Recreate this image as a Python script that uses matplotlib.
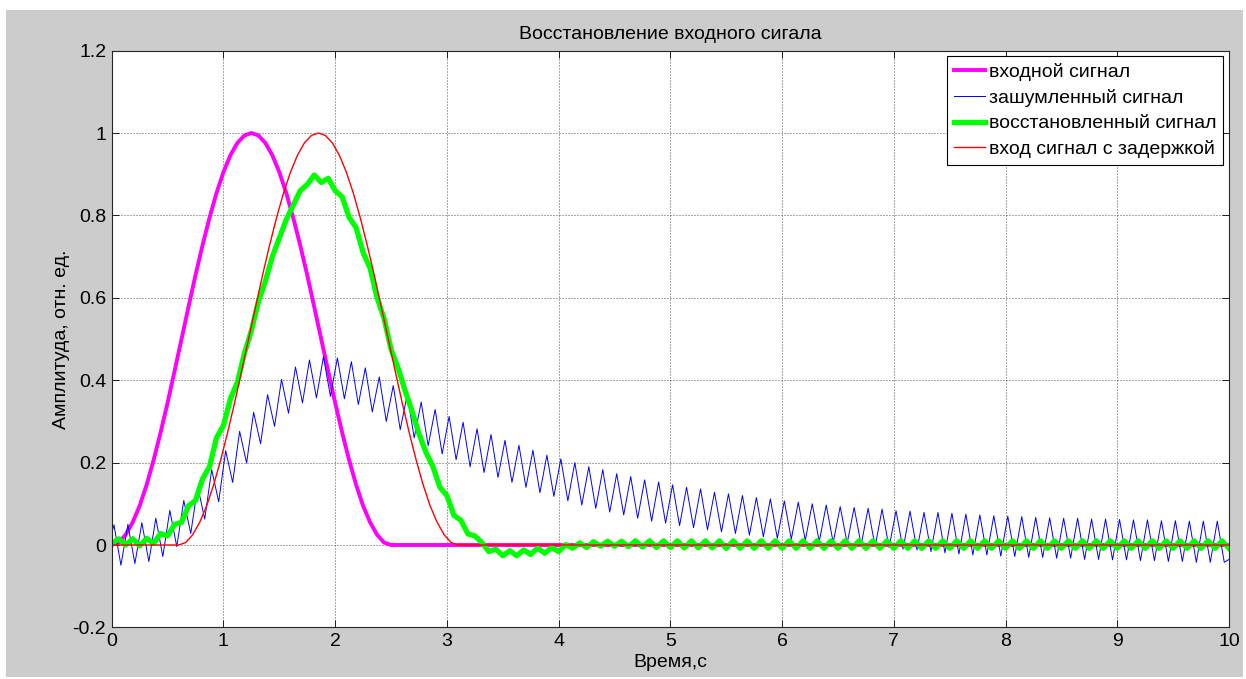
import numpy as np
import matplotlib
matplotlib.use("Agg")
import matplotlib.pyplot as plt
from matplotlib.patches import Rectangle

plt.rcParams["font.family"] = ["Liberation Sans", "DejaVu Sans"]
plt.rcParams["font.size"] = 14

# входной импульс, отсчёты через 0.0625 с
pulse_step = 0.0625
pulse_vals = [0.000, 0.006, 0.025, 0.055, 0.095, 0.146, 0.206, 0.273, 0.345, 0.422,
              0.500, 0.578, 0.655, 0.727, 0.794, 0.854, 0.905, 0.946, 0.976, 0.994,
              1.000, 0.994, 0.976, 0.946, 0.905, 0.854, 0.794, 0.727, 0.655, 0.578,
              0.500, 0.422, 0.345, 0.273, 0.206, 0.146, 0.095, 0.055, 0.025, 0.006,
              0.000]
delay = 0.6          # задержка, с
t_end = 10.0

# зашумлённый сигнал: максимумы и минимумы помехи 8 Гц
noise_period = 0.125
noise_phase = 0.02
noisy_peaks = [0.049, 0.050, 0.054, 0.065, 0.084, 0.108, 0.142, 0.183, 0.229, 0.276,
               0.322, 0.365, 0.402, 0.432, 0.449, 0.457, 0.454, 0.445, 0.430, 0.408,
               0.387, 0.365, 0.347, 0.329, 0.312, 0.298, 0.282, 0.268, 0.254, 0.242,
               0.230, 0.218, 0.209, 0.200, 0.190, 0.183, 0.173, 0.166, 0.158, 0.153,
               0.146, 0.140, 0.136, 0.128, 0.124, 0.120, 0.115, 0.112, 0.107, 0.104,
               0.100, 0.097, 0.093, 0.091, 0.089, 0.087, 0.083, 0.082, 0.079, 0.079,
               0.077, 0.075, 0.073, 0.071, 0.070, 0.069, 0.067, 0.066, 0.065, 0.065,
               0.063, 0.063, 0.062, 0.061, 0.061, 0.059, 0.059, 0.058, 0.058, 0.058]
noisy_troughs = [-0.049, -0.045, -0.040, -0.028, -0.004, 0.028, 0.063, 0.105, 0.152, 0.199,
                 0.246, 0.288, 0.320, 0.345, 0.357, 0.361, 0.355, 0.341, 0.323, 0.300,
                 0.280, 0.260, 0.241, 0.221, 0.207, 0.190, 0.176, 0.164, 0.152, 0.140,
                 0.127, 0.118, 0.107, 0.097, 0.089, 0.080, 0.073, 0.065, 0.058, 0.053,
                 0.047, 0.042, 0.037, 0.032, 0.028, 0.024, 0.020, 0.016, 0.014, 0.011,
                 0.008, 0.006, 0.004, 0.000, -0.004, -0.006, -0.010, -0.012, -0.016, -0.019,
                 -0.022, -0.024, -0.024, -0.027, -0.028, -0.030, -0.030, -0.032, -0.032, -0.035,
                 -0.035, -0.036, -0.036, -0.038, -0.038, -0.040, -0.040, -0.042, -0.042, -0.042]
noisy_start = 0.028
noisy_end = -0.035

# восстановленный сигнал, отсчёты через 0.0625 с
restored_step = 0.0625
restored_vals = [0.003, 0.015, 0.000, 0.015, -0.002, 0.016, 0.004, 0.028, 0.022, 0.050,
                 0.055, 0.095, 0.108, 0.160, 0.190, 0.260, 0.290, 0.355, 0.395, 0.465,
                 0.520, 0.590, 0.640, 0.700, 0.745, 0.790, 0.825, 0.860, 0.875, 0.898,
                 0.880, 0.890, 0.860, 0.845, 0.795, 0.770, 0.710, 0.672, 0.600, 0.550,
                 0.475, 0.430, 0.375, 0.325, 0.270, 0.225, 0.190, 0.140, 0.120, 0.072,
                 0.060, 0.027, 0.022, 0.006, -0.016, -0.010, -0.026, -0.014, -0.026, -0.012,
                 -0.023, -0.007, -0.020, -0.006, -0.016, 0.001, -0.008, 0.005, -0.006, 0.008,
                 -0.003, 0.009, -0.003, 0.009, -0.004, 0.010, -0.005, 0.010, -0.006, 0.010,
                 -0.006, 0.010, -0.007, 0.010, -0.007, 0.010, -0.007, 0.010, -0.008, 0.010,
                 -0.008, 0.010, -0.008, 0.010, -0.008, 0.010, -0.008, 0.010, -0.008, 0.010,
                 -0.008, 0.010, -0.008, 0.010, -0.008, 0.010, -0.008, 0.010, -0.008, 0.010,
                 -0.008, 0.010, -0.008, 0.010, -0.008, 0.010, -0.008, 0.010, -0.008, 0.010,
                 -0.008, 0.010, -0.008, 0.010, -0.008, 0.010, -0.008, 0.010, -0.008, 0.010,
                 -0.008, 0.010, -0.008, 0.010, -0.008, 0.010, -0.008, 0.010, -0.008, 0.010,
                 -0.008, 0.010, -0.008, 0.010, -0.008, 0.010, -0.008, 0.010, -0.008, 0.010,
                 -0.008, 0.010, -0.008, 0.010, -0.008, 0.010, -0.008, 0.010, -0.008, 0.010,
                 -0.008]

x_ticks = list(range(0, 11))
y_ticks = [-0.2, 0.0, 0.2, 0.4, 0.6, 0.8, 1.0, 1.2]
y_tick_labels = ["-0.2", "0", "0.2", "0.4", "0.6", "0.8", "1", "1.2"]

# сборка временных осей
t_pulse = np.arange(len(pulse_vals)) * pulse_step
t_in = np.concatenate([t_pulse, [t_end]])
y_in = np.concatenate([pulse_vals, [0.0]])
t_del = np.concatenate([[0.0], t_pulse + delay, [t_end]])
y_del = np.concatenate([[0.0], pulse_vals, [0.0]])

t_pk = noise_phase + noise_period * np.arange(len(noisy_peaks))
t_tr = t_pk + noise_period / 2
t_noisy = np.concatenate([[0.0], np.column_stack([t_pk, t_tr]).ravel(), [t_end]])
y_noisy = np.concatenate([[noisy_start],
                          np.column_stack([noisy_peaks, noisy_troughs]).ravel(),
                          [noisy_end]])

t_rest = np.arange(len(restored_vals)) * restored_step

fig = plt.figure(figsize=(12.46, 6.79), dpi=100, facecolor="white")
fig.add_artist(Rectangle((6 / 1246, 2 / 679), 1237 / 1246, 667 / 679,
                         transform=fig.transFigure, facecolor="#cccccc",
                         edgecolor="none", zorder=-5))
ax = fig.add_axes([111.7 / 1246, 51.6 / 679, 1117.3 / 1246, 576.8 / 679])
ax.set_facecolor("white")

ax.plot(t_in, y_in, color="#ff00ff", lw=2.8, label="входной сигнал")
ax.plot(t_noisy, y_noisy, color="#0000ff", lw=0.7, label="зашумленный сигнал",
        solid_joinstyle="round")
ax.plot(t_rest, restored_vals, color="#00ff00", lw=3.8, label="восстановленный сигнал",
        solid_joinstyle="round")
ax.plot(t_del, y_del, color="#ff0000", lw=1.0, label="вход сигнал с задержкой")

ax.set_xlim(0, 10)
ax.set_ylim(-0.2, 1.2)
ax.set_xticks(x_ticks)
ax.set_xticklabels([str(v) for v in x_ticks])
ax.set_yticks(y_ticks)
ax.set_yticklabels(y_tick_labels)
ax.tick_params(direction="in", length=5, width=0.6, top=True, right=True,
               labelsize=14, pad=4)
ax.grid(True, color="0.2", linestyle=(0, (1.2, 2.4)), linewidth=0.6)
for s in ax.spines.values():
    s.set_linewidth(0.8)
    s.set_color("0.15")

ax.set_title("Восстановление входного сигала", fontsize=14, pad=8)
ax.set_xlabel("Время,с", fontsize=14, labelpad=3)
ax.set_ylabel("Амплитуда, отн. ед.", fontsize=14, labelpad=2)

leg = ax.legend(loc="upper right", fontsize=14, fancybox=False, framealpha=1,
                edgecolor="black", borderaxespad=0.3, handlelength=1.6,
                handletextpad=0.2, labelspacing=0.4, borderpad=0.35)
leg.get_frame().set_linewidth(0.8)

fig.savefig("out.png", dpi=100, facecolor=fig.get_facecolor())
